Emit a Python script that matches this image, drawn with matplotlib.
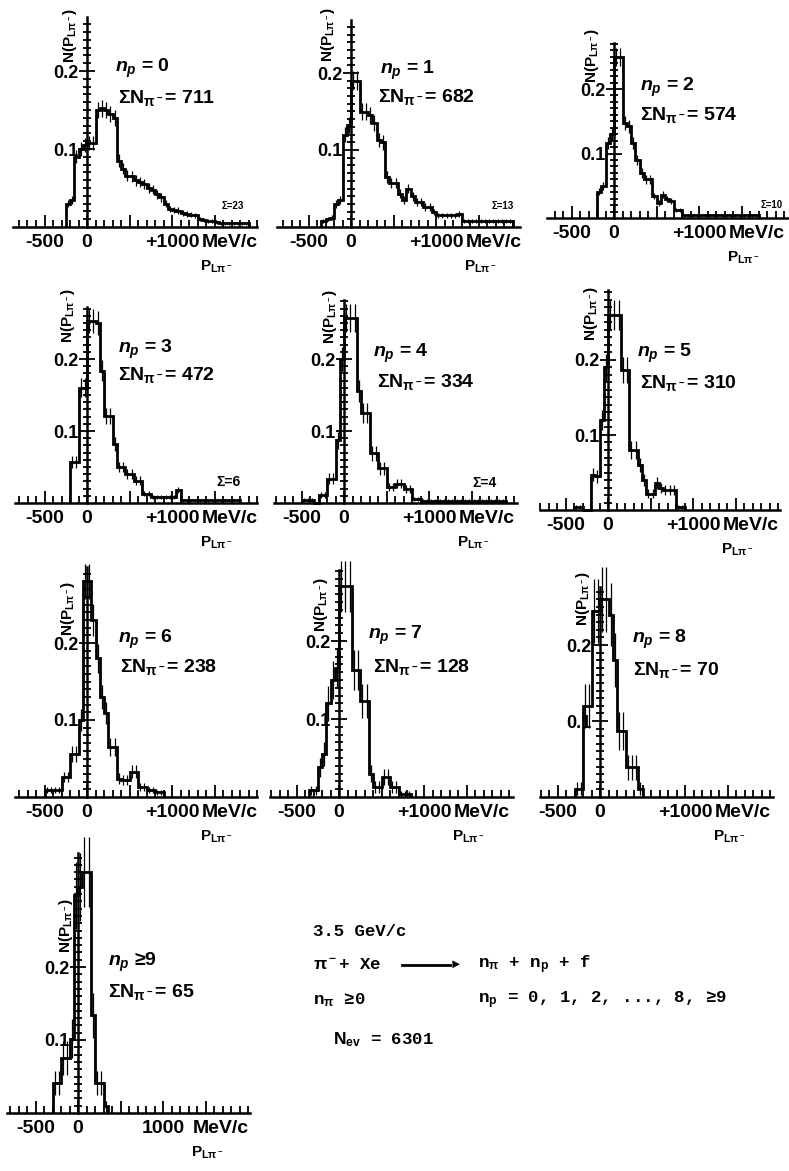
import numpy as np
import matplotlib.pyplot as plt
from matplotlib.ticker import MultipleLocator

plt.rcParams['font.family'] = ['Liberation Sans', 'DejaVu Sans']
plt.rcParams['font.weight'] = 'bold'
plt.rcParams['mathtext.fontset'] = 'custom'
plt.rcParams['mathtext.rm'] = 'Liberation Sans'
plt.rcParams['mathtext.it'] = 'Liberation Sans:italic:bold'
plt.rcParams['mathtext.bf'] = 'Liberation Sans:bold'
plt.rcParams['mathtext.fallback'] = 'stixsans'
plt.rcParams['mathtext.default'] = 'bf'

# N(P_L pi-) distributions, 50 MeV/c bins, one list per number of protons n_p
bin_w = 50
np_labels = ['0', '1', '2', '3', '4', '5', '6', '7', '8', '≥9']
totals = [711, 682, 574, 472, 334, 310, 238, 128, 70, 65]
overflow = ['Σ=23', 'Σ=13', 'Σ=10', 'Σ=6', 'Σ=4', None, None, None, None, None]
first_edge = [-250, -350, -200, -200, -500, -400, -500, -350, -300, -300]

h0 = [0.03, 0.035, 0.09, 0.1, 0.105, 0.108, 0.108, 0.15, 0.152, 0.15, 0.145, 0.14,
      0.085, 0.075, 0.066, 0.065, 0.06, 0.058, 0.055, 0.05, 0.048, 0.042, 0.038, 0.03,
      0.023, 0.022, 0.021, 0.018, 0.017, 0.016, 0.015, 0.01, 0.009, 0.008, 0.008, 0.006,
      0.005, 0.005, 0.005, 0.005, 0.005, 0.005, 0.005]
h1 = [0.008, 0.01, 0.012, 0.03, 0.035, 0.12, 0.133, 0.19, 0.19, 0.15, 0.15, 0.145,
      0.135, 0.113, 0.11, 0.065, 0.057, 0.057, 0.043, 0.035, 0.05, 0.04, 0.033, 0.033,
      0.026, 0.026, 0.02, 0.015, 0.015, 0.015, 0.015, 0.015, 0.017, 0.008, 0.008, 0.008,
      0.008, 0.008, 0.008, 0.008, 0.008, 0.008, 0.008, 0.008, 0.008]
h2 = [0.041, 0.05, 0.116, 0.13, 0.25, 0.25, 0.147, 0.142, 0.116, 0.09, 0.07, 0.06,
      0.06, 0.034, 0.023, 0.036, 0.03, 0.026, 0.013, 0.013, 0.004, 0.004, 0.004, 0.004,
      0.004, 0.004, 0.004, 0.004, 0.004, 0.004, 0.004, 0.004, 0.004, 0.004, 0.004, 0.004,
      0.004, 0.004]
h3 = [0.057, 0.057, 0.16, 0.16, 0.253, 0.253, 0.25, 0.184, 0.121, 0.121, 0.082, 0.05,
      0.05, 0.04, 0.04, 0.031, 0.031, 0.013, 0.013, 0.008, 0.008, 0.008, 0.008, 0.008,
      0.008, 0.018, 0.004, 0.004, 0.004, 0.004, 0.004, 0.004, 0.004, 0.004, 0.004, 0.004,
      0.004, 0.004, 0.004, 0.004]
h4 = [0.004, 0.004, 0.004, 0.0, 0.011, 0.011, 0.034, 0.034, 0.087, 0.2, 0.257, 0.257,
      0.257, 0.155, 0.125, 0.125, 0.069, 0.069, 0.048, 0.048, 0.022, 0.022, 0.027, 0.027,
      0.02, 0.02, 0.006, 0.006, 0.003, 0.003, 0.003, 0.003, 0.003, 0.003, 0.003, 0.003,
      0.003, 0.003, 0.003, 0.003, 0.003, 0.003, 0.003, 0.003, 0.003, 0.003, 0.003, 0.003]
h5 = [0.004, 0.004, 0.0, 0.0, 0.047, 0.045, 0.12, 0.19, 0.26, 0.26, 0.26, 0.187,
      0.187, 0.08, 0.08, 0.06, 0.04, 0.022, 0.022, 0.036, 0.029, 0.027, 0.027, 0.027,
      0.004, 0.004]
h6 = [0.009, 0.009, 0.009, 0.009, 0.026, 0.026, 0.056, 0.056, 0.1, 0.28, 0.28, 0.23,
      0.18, 0.13, 0.109, 0.065, 0.065, 0.024, 0.022, 0.022, 0.033, 0.033, 0.013, 0.013,
      0.009, 0.009, 0.006, 0.006]
h7 = [0.0085, 0.0085, 0.038, 0.055, 0.12, 0.15, 0.165, 0.27, 0.27, 0.27, 0.163, 0.163,
      0.123, 0.123, 0.03, 0.013, 0.013, 0.026, 0.026, 0.013, 0.013, 0.004, 0.004, 0.004]
h8 = [0.011, 0.011, 0.12, 0.12, 0.245, 0.245, 0.26, 0.26, 0.24, 0.18, 0.087, 0.087,
      0.039, 0.039, 0.039, 0.011]
h9 = [0.041, 0.041, 0.075, 0.075, 0.102, 0.298, 0.31, 0.33, 0.33, 0.134, 0.041, 0.041,
      0.009]
hists = [h0, h1, h2, h3, h4, h5, h6, h7, h8, h9]

# ---- layout (pixels of the 789x1171 page)
W, H = 789, 1171
PX100 = 8.5   # pixels per 100 MeV/c
# left, right, x of P=0, baseline, top of axis, pixels per 0.1
boxes = [(13, 257, 87, 227, 17, 78), (277, 520, 351, 227, 20, 77), (547, 789, 614, 218, 43, 64.5),
         (15, 257, 87, 503, 307, 72), (274, 517, 344, 503, 300, 72), (540, 780, 608, 510, 290, 75),
         (15, 257, 87, 797, 567, 77), (270, 513, 339, 797, 570, 78), (540, 773, 600, 797, 587, 76),
         (7, 250, 78, 1113, 853, 73)]
np_pos = [(115, 68), (380, 70), (640, 87), (118, 349), (373, 353), (637, 353),
          (118, 639), (368, 635), (632, 639), (108, 962)]
sum_pos = [(118, 98), (378, 97), (640, 115), (118, 375), (377, 382), (640, 383),
           (120, 667), (373, 667), (633, 670), (108, 992)]
ylab_pos = [(70, 35), (328, 34), (592, 55), (68, 315), (330, 316), (591, 313),
            (68, 608), (321, 604), (583, 598), (66, 925)]
over_pos = [(233, 206), (503, 206), (772, 205), (228, 482), (484, 483)]
over_size = [7, 7, 7, 10, 10]
err_scale = 0.5   # drawn error bars are about half the plain Poisson estimate


def px2data(g, x, y):
    l, r, z, b, t, py = g
    return (x - z) / PX100 * 100, (b - y) / py * 0.1


fig = plt.figure(figsize=(W / 100, H / 100), dpi=100)
fig.patch.set_facecolor('white')

for i, g in enumerate(boxes):
    l, r, z, b, t, py = g
    ax = fig.add_axes([l / W, 1 - b / H, (r - l) / W, (b - t) / H])
    ax.patch.set_alpha(0)
    ytop = (b - t) / py * 0.1
    ax.set_xlim((l - z) / PX100 * 100, (r - z) / PX100 * 100)
    ax.set_ylim(0, ytop)

    vals = np.array(hists[i])
    edges = first_edge[i] + bin_w * np.arange(len(vals) + 1)
    ax.stairs(vals, edges, color='black', lw=2.0, baseline=0, clip_on=False)
    counts = vals / vals.sum() * totals[i]
    ok = counts > 0
    err = np.zeros_like(vals)
    err[ok] = err_scale * vals[ok] / np.sqrt(counts[ok])
    centers = edges[:-1] + bin_w / 2
    ax.errorbar(centers[ok], vals[ok], yerr=err[ok], fmt='none', ecolor='black',
                elinewidth=0.9, capsize=0, clip_on=False)

    for s in ['top', 'right']:
        ax.spines[s].set_visible(False)
    ax.spines['left'].set_position(('data', 0))
    ax.spines['left'].set_linewidth(1.8)
    ax.spines['bottom'].set_linewidth(1.8)

    xlab = '1000' if i == 9 else '+1000'
    ax.set_xticks([-500, 0, 500, 1000, 1500], ['-500', '0', '', xlab, ''])
    ax.xaxis.set_minor_locator(MultipleLocator(100))
    ax.tick_params(axis='x', which='major', direction='in', length=9, width=1.3,
                   labelsize=14, pad=5)
    ax.tick_params(axis='x', which='minor', direction='in', length=5, width=1.3)
    ax.set_yticks([0.1, 0.2], ['0.1', '0.2'])
    ax.set_yticks(np.arange(0.01, ytop, 0.01), minor=True)
    ax.tick_params(axis='y', which='major', direction='inout', length=12, width=1.3,
                   labelsize=13, pad=0)
    ax.tick_params(axis='y', which='minor', direction='inout', length=6, width=1.3)

    ax.annotate('MeV/c', xy=(1680, 0), xytext=(0, -5), textcoords='offset points',
                ha='center', va='top', fontsize=14, annotation_clip=False)
    ax.annotate('$P_{L\\pi^-}$', xy=(1520, 0), xytext=(0, -23), textcoords='offset points',
                ha='center', va='top', fontsize=11, annotation_clip=False)

    ax.text(*px2data(g, *ylab_pos[i]), '$N(P_{L\\pi^-})$', rotation=90,
            ha='center', va='center', fontsize=11, clip_on=False)
    sep = ' ' if np_labels[i].startswith('≥') else ' = '
    ax.text(*px2data(g, *np_pos[i]), '$\\mathit{n}_{\\mathit{p}}$' + sep + np_labels[i],
            ha='left', va='center', fontsize=14)
    ax.text(*px2data(g, *sum_pos[i]), '$\\Sigma N_{\\pi^-}$= %d' % totals[i],
            ha='left', va='center', fontsize=14)
    if overflow[i]:
        ax.text(*px2data(g, *over_pos[i]), overflow[i], ha='center', va='center',
                fontsize=over_size[i], clip_on=False)

# reaction summary
mono = ['Liberation Mono', 'DejaVu Sans Mono']
fig.text(313 / W, 1 - 932 / H, '3.5 GeV/c', family=mono, fontsize=12.5, va='center')
fig.text(313 / W, 1 - 965 / H, '$\\pi^-$+ Xe', family=mono, fontsize=12.5, va='center')
fig.text(478 / W, 1 - 965 / H, '$n_{\\pi}$ + $n_p$ + f', family=mono, fontsize=12.5, va='center')
fig.text(313 / W, 1 - 1000 / H, '$n_{\\pi}$ ≥0', family=mono, fontsize=12.5, va='center')
fig.text(478 / W, 1 - 1000 / H, '$n_p$ = 0, 1, 2, ..., 8, ≥9', family=mono, fontsize=12.5,
         va='center')
fig.text(333 / W, 1 - 1040 / H, '$N_{ev}$ = 6301', family=mono, fontsize=12.5, va='center')
fig.add_artist(plt.Line2D([402 / W, 450 / W], [1 - 965 / H, 1 - 965 / H], color='black', lw=2))
fig.text(450 / W, 1 - 965 / H, '►', fontsize=9, va='center', ha='left')

fig.savefig('out.png', dpi=100)
